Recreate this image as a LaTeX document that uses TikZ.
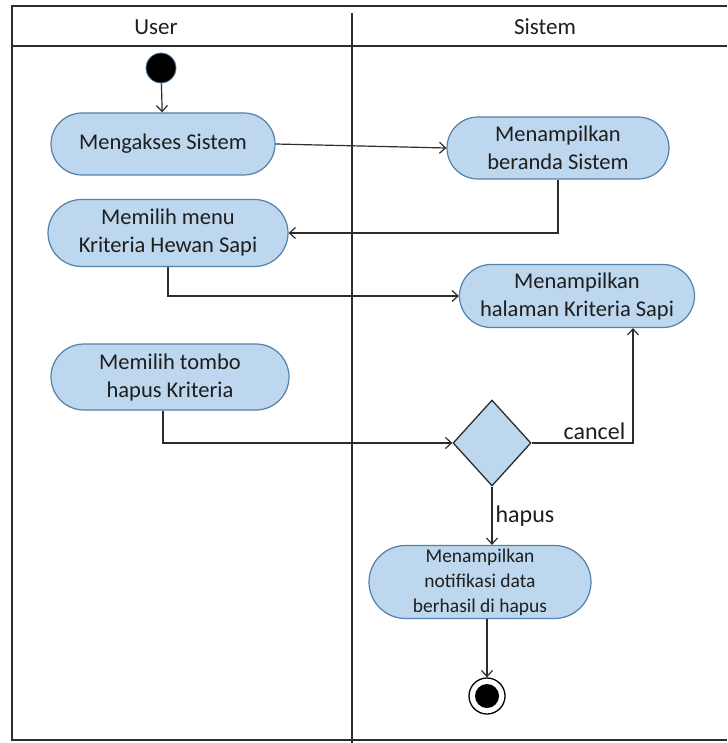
\documentclass[tikz,border=0pt]{standalone}
\usepackage{fontspec}
\setmainfont{Carlito}
\usetikzlibrary{shapes.geometric,shapes.misc,arrows.meta}

\definecolor{isibiru}{RGB}{189,215,238}
\definecolor{garisbiru}{RGB}{84,128,170}
\definecolor{garis}{RGB}{45,45,45}
\definecolor{teks}{RGB}{30,30,30}

\begin{document}
\begin{tikzpicture}[x=1pt,y=-1pt,
  bingkai/.style={draw=garis,line width=1.4pt},
  judul/.style={text=teks,font=\fontsize{23}{28}\selectfont},
  aksi/.style={rounded rectangle,draw=garisbiru,fill=isibiru,line width=1.2pt,
    align=center,text=teks,inner sep=0pt,font=\fontsize{22.5}{28}\selectfont},
  putus/.style={diamond,draw=garis,fill=isibiru,line width=1.3pt,inner sep=0pt,
    minimum width=78pt,minimum height=86pt,aspect=0.9},
  mulai/.style={circle,fill=black,draw=garisbiru,line width=0.8pt,minimum size=30pt,inner sep=0pt},
  akhir/.style={circle,draw=black,fill=white,line width=1.3pt,minimum size=36pt,inner sep=0pt,
    path picture={\fill[black] (path picture bounding box.center) circle (12pt);}},
  alur/.style={draw=garis,line width=1.2pt,-{Straight Barb[length=6pt,width=11pt]}},
  label/.style={text=teks,font=\fontsize{24}{28}\selectfont,inner sep=3pt}]

\useasboundingbox (0,0) rectangle (727,743);

% swimlanes
\draw[bingkai] (727,6) -- (12,6) -- (12,740) -- (727,740);
\draw[bingkai] (12,46) -- (727,46);
\draw[bingkai] (352,13) -- (352,743);
\node[judul] (user) at (156,27) {User};
\node[judul] (sistem) at (545,27) {Sistem};

% lane User
\node[mulai] (start) at (161,68) {};
\node[aksi,minimum width=224pt,minimum height=62pt] (mengakses) at (163,144) {Mengakses Sistem};
\node[aksi,minimum width=240pt,minimum height=67pt] (menu) at (168,233) {Memilih menu\\Kriteria Hewan Sapi};
\node[aksi,minimum width=238pt,minimum height=66pt] (tombol) at (170,377) {Memilih tombo\\hapus Kriteria};

% lane Sistem
\node[aksi,minimum width=222pt,minimum height=62pt] (beranda) at (558,148) {Menampilkan\\beranda Sistem};
\node[aksi,minimum width=235pt,minimum height=63pt] (halaman) at (577,296) {Menampilkan\\halaman Kriteria Sapi};
\node[putus] (pilih) at (492,443) {};
\node[aksi,minimum width=222pt,minimum height=73pt,font=\fontsize{19.5}{25}\selectfont] (notif) at (480,582) {Menampilkan\\notifikasi data\\berhasil di hapus};
\node[akhir] (selesai) at (487,696) {};

% alur
\draw[alur] (start) -- (mengakses);
\draw[alur] (mengakses.east) -- (beranda.west);
\draw[alur] (beranda.south) |- (menu.east);
\draw[alur] (menu.south) |- (halaman.west);
\draw[alur] ([xshift=-7pt]tombol.south) |- (pilih.west);
\draw[alur] (pilih.east) -| node[label,above,pos=0.31] {cancel} ([xshift=56pt]halaman.south);
\draw[alur] (pilih.south) -- node[label,right] {hapus} (pilih.south |- notif.north);
\draw[alur] (selesai |- notif.south) -- (selesai);
\end{tikzpicture}
\end{document}
